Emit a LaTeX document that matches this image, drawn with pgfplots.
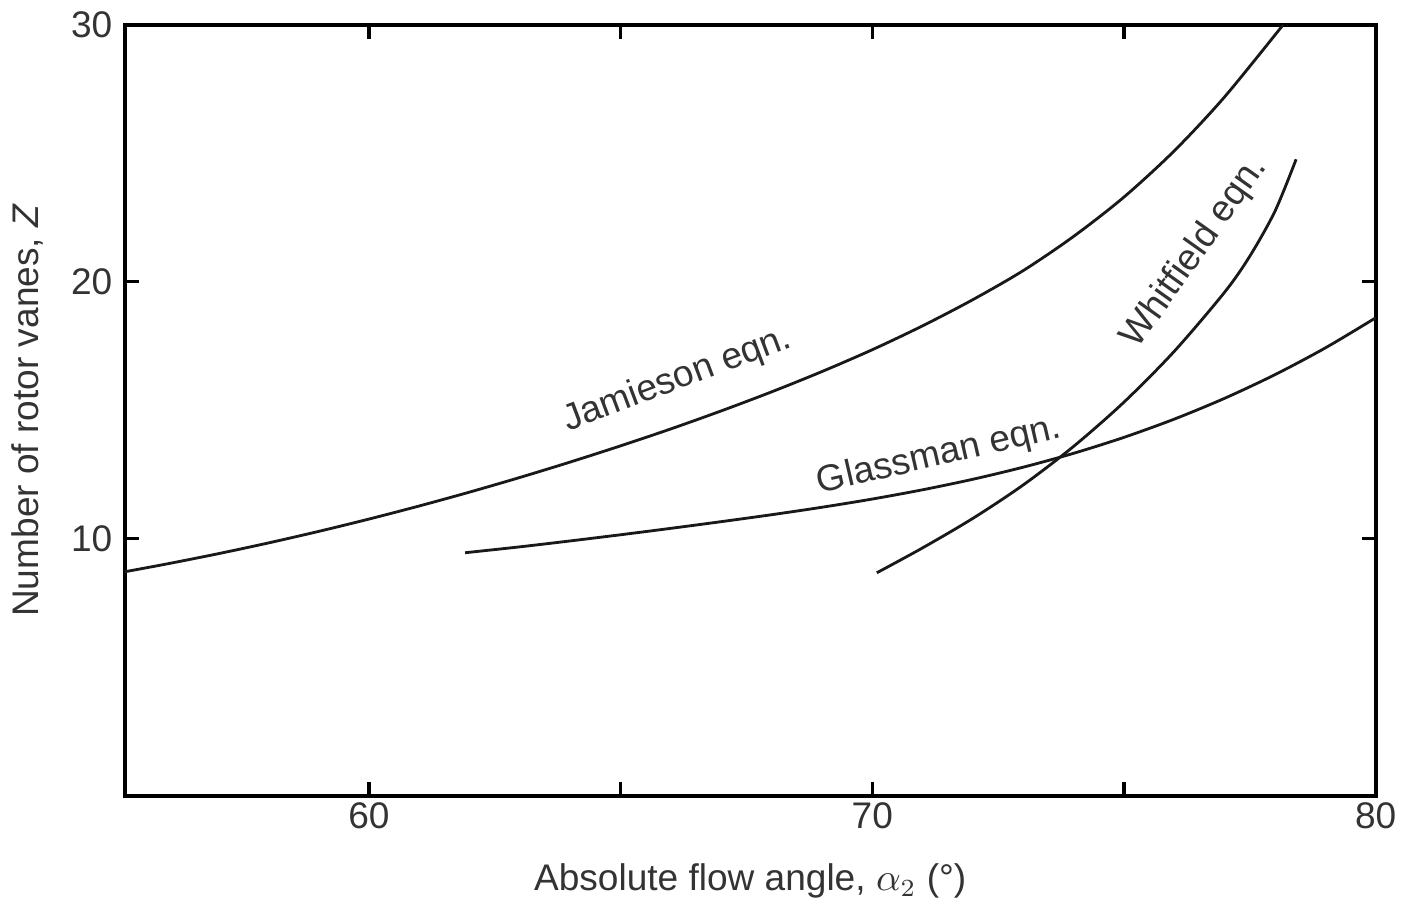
\documentclass[border=0pt]{standalone}
\usepackage{fontspec}
\setmainfont{Liberation Sans}
\usepackage{pgfplots}
\pgfplotsset{compat=1.18}

% curves
\pgfplotstableread{
x y
55.15 8.72
56 9.03
57 9.42
58 9.84
59 10.29
60 10.77
61 11.28
62 11.82
63 12.39
64 12.99
65 13.62
66 14.28
67 14.98
68 15.72
69 16.51
70 17.36
71 18.29
72 19.31
73 20.44
74 21.77
75 23.30
76 25.10
77 27.20
78.16 30.00
}\jamieson
\pgfplotstableread{
x y
61.91 9.46
63 9.69
64 9.92
65 10.16
66 10.41
67 10.67
68 10.94
69 11.23
70 11.55
71 11.91
72 12.32
73 12.79
74 13.33
75 13.95
76 14.66
77 15.47
78 16.39
79 17.43
80 18.60
}\glassman
\pgfplotstableread{
x y
70.09 8.68
71 9.65
72 10.80
73 12.10
74 13.60
75 15.32
76 17.30
77 19.60
77.5 21.00
78 22.75
78.42 24.77
}\whitfield

\begin{document}
\begin{tikzpicture}
\begin{axis}[
  width=354.5pt, height=218.5pt, scale only axis,
  xmin=55.15, xmax=80, ymin=0, ymax=30,
  xtick={60,65,70,75,80}, xticklabels={60,,70,,80},
  ytick={10,20,30},
  tick align=inside, major tick length=4pt,
  every tick/.style={black, line width=0.9pt},
  axis line style={line width=1.1pt},
  /pgf/number format/assume math mode=true,
  tick label style={font=\fontsize{10.5}{12}\selectfont, text=black!80},
  xticklabel style={yshift=1.5pt},
  label style={font=\fontsize{10.5}{12}\selectfont, text=black!80},
  xlabel={Absolute flow angle, $\alpha_2$ (°)},
  ylabel={Number of rotor vanes, \textit{Z}},
  xlabel style={yshift=-3pt},
  ylabel style={yshift=1pt},
  clip=false,
]
\addplot[black!90, line width=0.8pt, smooth] table {\jamieson};
\addplot[black!90, line width=0.8pt, smooth] table {\glassman};
\addplot[black!90, line width=0.8pt, smooth] table {\whitfield};
\node[rotate=20.6, font=\fontsize{10.5}{12}\selectfont, text=black!80] at (axis cs:66.13,16.19) {Jamieson eqn.};
\node[rotate=13, font=\fontsize{10.5}{12}\selectfont, text=black!80] at (axis cs:71.33,13.23) {Glassman eqn.};
\node[rotate=54.6, font=\fontsize{10.5}{12}\selectfont, text=black!80] at (axis cs:76.41,21.14) {Whitfield eqn.};
\end{axis}
\end{tikzpicture}
\end{document}
